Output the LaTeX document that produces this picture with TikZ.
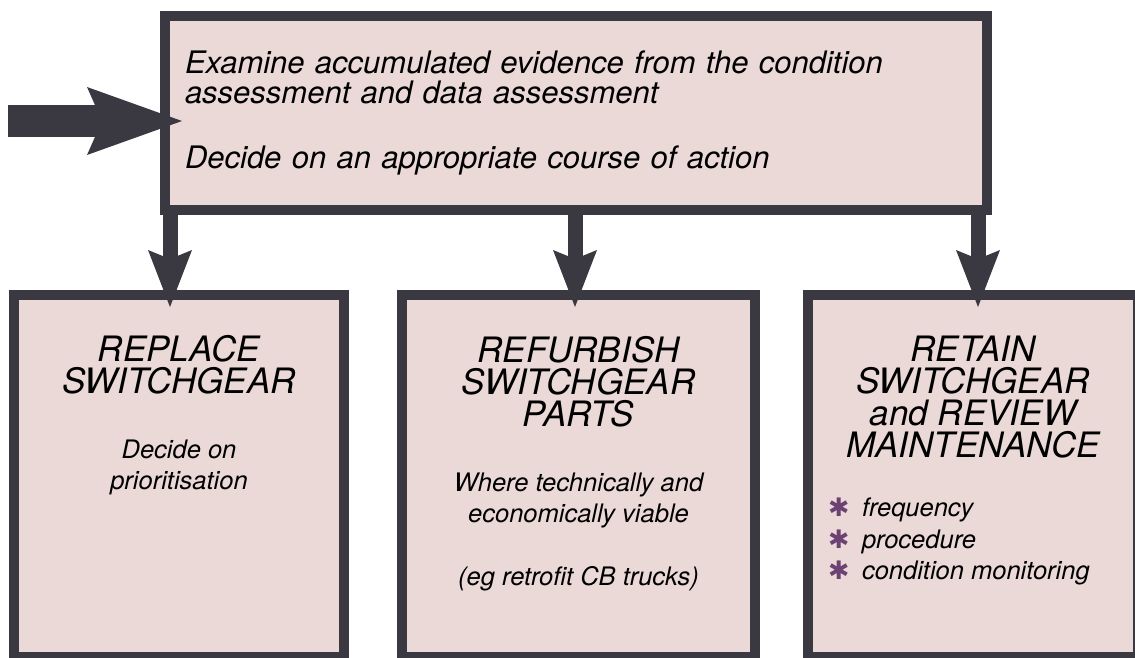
\documentclass[tikz,border=0pt]{standalone}
\usepackage{fontspec}
\setmainfont{TeX Gyre Heros}
\newfontfamily\symfont{DejaVu Sans}
\usetikzlibrary{positioning,arrows.meta}
\definecolor{boxfill}{HTML}{EBD9D7}
\definecolor{boxline}{HTML}{3A3841}
\definecolor{starpurple}{HTML}{6B4272}
\newcommand{\staritem}{\makebox[34pt][l]{\textcolor{starpurple}{\symfont\upshape ✱}}}
\begin{document}
\begin{tikzpicture}[x=1pt,y=-1pt,
        casebox/.style={draw=boxline,fill=boxfill,line width=10pt,rectangle,
            minimum width=330pt,minimum height=362pt},
        headtext/.style={inner sep=0pt,outer sep=0pt,align=center,
            font=\fontsize{35}{32}\selectfont\itshape},
        subtext/.style={inner sep=0pt,outer sep=0pt,align=center,
            font=\fontsize{25.5}{31.5}\selectfont\itshape},
        flowarrow/.style={draw=boxline,line width=15pt,shorten >=-17pt,
            -{Stealth[length=57pt,width=44pt,inset=9pt,line width=0pt]}}]
        \useasboundingbox (0,0) rectangle (1135,657);
        \clip (0,0) rectangle (1135,657);
        %% Top box
        \node[casebox,minimum width=822pt,minimum height=194pt,text width=782pt,
            align=left,font=\fontsize{31}{30}\selectfont\itshape]
            (top) at (576,113) {Examine accumulated evidence from the condition\\
            assessment and data assessment\\[35pt]
            Decide on an appropriate course of action};
        %% Three cases
        \node[casebox] (replace) at (179,476) {};
        \node[casebox,minimum width=353pt] (refurb) at (578.5,476) {};
        \node[casebox] (retain) at (973,476) {};
        \node[headtext,below=45pt of replace.north] (replacehead) {REPLACE\\SWITCHGEAR};
        \node[subtext,below=46pt of replacehead] (replacetext) {Decide on\\prioritisation};
        \node[headtext,below=46pt of refurb.north] (refurbhead) {REFURBISH\\SWITCHGEAR\\PARTS};
        \node[subtext,below=46pt of refurbhead] (refurbtext)
            {Where technically and\\economically viable\\[31.5pt](eg retrofit CB trucks)};
        \node[headtext,below=46pt of retain.north] (retainhead)
            {RETAIN\\SWITCHGEAR\\and REVIEW\\MAINTENANCE};
        \node[subtext,align=left,anchor=north west,xshift=25pt,yshift=-40pt]
            (retainlist) at (retainhead.south -| retain.west)
            {\staritem frequency\\\staritem procedure\\\staritem condition monitoring};
        %% Arrows
        \coordinate (in) at (8,121);
        \draw[flowarrow,line width=32pt,shorten >=-22pt,
            -{Stealth[length=95pt,width=68pt,inset=15pt,line width=0pt]}]
            (in) -- (in -| top.west);
        \foreach \b/\dx in {replace/-9,refurb/-3.5,retain/5}
            \draw[flowarrow,transform canvas={xshift=\dx pt}]
                (top.south -| \b.north) -- (\b.north);
    \end{tikzpicture}
\end{document}
